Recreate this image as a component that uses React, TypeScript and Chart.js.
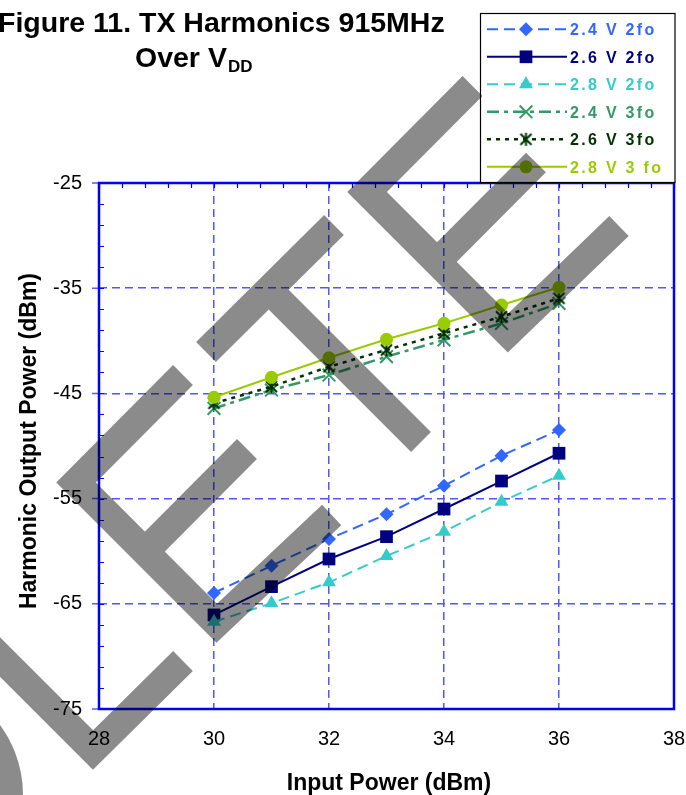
import React, { useEffect, useRef } from 'react';
import { Chart, registerables } from 'chart.js';
import { drawPoint } from 'chart.js/helpers';

Chart.register(...registerables);

// ---------- data ----------
const inputPower = [30, 31, 32, 33, 34, 35, 36];
const v24_2fo = [-63.97, -61.38, -58.84, -56.49, -53.77, -50.92, -48.48];
const v26_2fo = [-66.06, -63.37, -60.74, -58.62, -55.99, -53.33, -50.69];
const v28_2fo = [-66.7, -64.95, -62.96, -60.46, -58.15, -55.29, -52.82];
const v24_3fo = [-46.42, -44.68, -43.25, -41.51, -39.92, -38.34, -36.44];
const v26_3fo = [-45.94, -44.36, -42.46, -40.87, -39.29, -37.71, -35.96];
const v28_3fo = [-45.37, -43.47, -41.61, -39.86, -38.34, -36.6, -34.91];
const seriesLabels = ['2.4 V 2fo', '2.6 V 2fo', '2.8 V 2fo', '2.4 V 3fo', '2.6 V 3fo', '2.8 V 3 fo'];
const xMin = 28, xMax = 38, xStep = 2;
const yMin = -75, yMax = -25, yStep = 10;
const titleLine1 = 'Figure 11. TX Harmonics 915MHz';
const titleLine2 = 'Over V';
const titleSub = 'DD';
const xTitle = 'Input Power (dBm)';
const yTitle = 'Harmonic Output Power (dBm)';

const FF = '"Liberation Sans", Arial, Helvetica, sans-serif';

function makeStar(color: string, size: number, lw: number) {
  const c = document.createElement('canvas');
  c.width = size; c.height = size;
  const g = c.getContext('2d')!;
  g.strokeStyle = color; g.lineWidth = lw;
  const h = size / 2, r = size / 2 - 1;
  g.beginPath();
  g.moveTo(h - r * 0.85, h - r * 0.85); g.lineTo(h + r * 0.85, h + r * 0.85);
  g.moveTo(h + r * 0.85, h - r * 0.85); g.lineTo(h - r * 0.85, h + r * 0.85);
  g.moveTo(h, h - r); g.lineTo(h, h + r);
  g.stroke();
  return c;
}

type Sty = { color: string; dash: number[]; width: number; point: any; radius: number; pbw: number };

function buildStyles(): Sty[] {
  return [
    { color: '#3366FF', dash: [11, 6], width: 2, point: 'rectRot', radius: 7, pbw: 0 },
    { color: '#000080', dash: [], width: 2, point: 'rect', radius: 9, pbw: 0 },
    { color: '#33CCCC', dash: [11, 6], width: 2, point: 'triangle', radius: 8, pbw: 0 },
    { color: '#339966', dash: [12, 5, 4, 5], width: 2.5, point: 'crossRot', radius: 9, pbw: 2 },
    { color: '#003300', dash: [4, 5], width: 2.5, point: makeStar('#003300', 15, 2), radius: 7, pbw: 0 },
    { color: '#99CC00', dash: [], width: 2, point: 'circle', radius: 6.5, pbw: 0 },
  ];
}

function drawWatermark(ctx: CanvasRenderingContext2D, W: number, H: number) {
  const off = document.createElement('canvas');
  off.width = W; off.height = H;
  const g = off.getContext('2d')!;
  g.strokeStyle = '#000';
  g.lineWidth = 28;
  g.lineCap = 'butt';
  g.lineJoin = 'miter';
  const polys: number[][][] = [
    [[-60, 597], [93, 750], [183, 661]],
    [[183, 375], [76, 482.5], [216.7, 623.3], [331.7, 515]],
    [[145, 551.5], [247, 449]],
    [[334, 225], [206, 352]],
    [[269, 290], [421, 442]],
    [[472.5, 86], [367, 192], [508, 333], [619, 226]],
    [[437, 262], [536, 162.5]],
  ];
  for (const p of polys) {
    g.beginPath();
    g.moveTo(p[0][0], p[0][1]);
    for (let i = 1; i < p.length; i++) g.lineTo(p[i][0], p[i][1]);
    g.stroke();
  }
  g.beginPath();
  g.arc(-95, 795, 104, -Math.PI / 2, Math.PI / 2);
  g.stroke();
  ctx.save();
  ctx.globalAlpha = 0.455;
  ctx.drawImage(off, 0, 0);
  ctx.restore();
}

export default function App() {
  const ref = useRef<HTMLCanvasElement>(null);
  useEffect(() => {
    const styles = buildStyles();
    const series = [v24_2fo, v26_2fo, v28_2fo, v24_3fo, v26_3fo, v28_3fo];
    const datasets = series.map((vals, i) => {
      const s = styles[i];
      return {
        label: seriesLabels[i],
        data: vals.map((v, k) => ({ x: inputPower[k], y: v })),
        borderColor: s.color,
        backgroundColor: s.color,
        borderWidth: s.width,
        borderDash: s.dash,
        pointStyle: s.point,
        pointRadius: s.radius,
        pointBackgroundColor: s.color,
        pointBorderColor: s.color,
        pointBorderWidth: s.pbw,
        tension: 0,
        fill: false,
        order: series.length - 1 - i,
      };
    });

    const gridColor = 'rgb(85,85,250)';

    const deco = {
      id: 'deco',
      afterDraw(chart: any) {
        const ctx: CanvasRenderingContext2D = chart.ctx;
        const a = chart.chartArea;
        const xs = chart.scales.x, ys = chart.scales.y;
        ctx.save();
        ctx.setLineDash([]);
        // minor ticks top (inside)
        ctx.strokeStyle = '#0000FF';
        ctx.lineWidth = 1.2;
        ctx.beginPath();
        for (let v = xMin; v <= xMax + 1e-9; v += 0.4) {
          const px = Math.round(xs.getPixelForValue(v)) + 0.5;
          ctx.moveTo(px, a.top); ctx.lineTo(px, a.top + 5);
        }
        for (let v = yMin; v <= yMax + 1e-9; v += 2) {
          const py = Math.round(ys.getPixelForValue(v)) + 0.5;
          ctx.moveTo(a.left, py); ctx.lineTo(a.left + 5, py);
        }
        ctx.stroke();
        // major ticks left (outside)
        ctx.strokeStyle = 'rgb(90,90,255)';
        ctx.lineWidth = 1.5;
        ctx.beginPath();
        for (let v = yMin; v <= yMax + 1e-9; v += yStep) {
          const py = ys.getPixelForValue(v);
          ctx.moveTo(a.left - 7, py); ctx.lineTo(a.left, py);
        }
        ctx.stroke();
        // border
        ctx.strokeStyle = '#0000FF';
        ctx.lineWidth = 2.5;
        ctx.strokeRect(a.left, a.top, a.right - a.left, a.bottom - a.top);

        // axis titles
        ctx.fillStyle = '#000';
        ctx.font = `bold 23px ${FF}`;
        ctx.textAlign = 'center';
        ctx.textBaseline = 'alphabetic';
        ctx.fillText(xTitle, 389, 790);
        ctx.save();
        ctx.translate(36, 441);
        ctx.rotate(-Math.PI / 2);
        ctx.fillText(yTitle, 0, 0);
        ctx.restore();

        // title
        ctx.textAlign = 'left';
        ctx.font = `bold 28.5px ${FF}`;
        ctx.fillText(titleLine1, -2, 31.5);
        ctx.fillText(titleLine2, 135, 67);
        const w2 = ctx.measureText(titleLine2).width;
        ctx.font = `bold 17px ${FF}`;
        ctx.fillText(titleSub, 135 + w2 + 1, 72);

        // legend
        const L = 480.5, T = 13.5, R = 675, B = 182.5;
        ctx.fillStyle = '#fff';
        ctx.fillRect(L, T, R - L, B - T);
        ctx.strokeStyle = '#000';
        ctx.lineWidth = 1.2;
        ctx.strokeRect(L, T, R - L, B - T);
        for (let i = 0; i < styles.length; i++) {
          const s = styles[i];
          const cy = 29.3 + i * 27.5;
          ctx.strokeStyle = s.color;
          ctx.lineWidth = s.width;
          ctx.setLineDash(s.dash);
          ctx.beginPath();
          ctx.moveTo(487, cy); ctx.lineTo(567, cy);
          ctx.stroke();
          ctx.setLineDash([]);
          ctx.fillStyle = s.color;
          ctx.strokeStyle = s.color;
          ctx.lineWidth = s.pbw;
          drawPoint(ctx, { pointStyle: s.point, rotation: 0, radius: s.radius, borderWidth: s.pbw } as any, 526, cy);
          ctx.fillStyle = s.color;
          ctx.font = `bold 16px ${FF}`;
          (ctx as any).letterSpacing = '2.3px';
          ctx.textAlign = 'left';
          ctx.fillText(seriesLabels[i], 570, cy + 5.8);
          (ctx as any).letterSpacing = '0px';
        }
        ctx.restore();

        drawWatermark(ctx, chart.width, chart.height);
      },
    };

    const chart = new Chart(ref.current!, {
      type: 'line',
      data: { datasets },
      options: {
        animation: false,
        responsive: false,
        maintainAspectRatio: false,
        layout: { padding: { top: 183, right: 12, left: 0, bottom: 0 } },
        plugins: { legend: { display: false }, tooltip: { enabled: false }, title: { display: false } },
        scales: {
          x: {
            type: 'linear', min: xMin, max: xMax,
            afterFit: (s: any) => { s.height = 86; s.paddingLeft = 0; s.paddingRight = 0; },
            ticks: { stepSize: xStep, color: '#000', font: { family: FF, size: 20 }, padding: 18, maxRotation: 0, autoSkip: false },
            grid: { color: gridColor, lineWidth: 1.5, drawTicks: false },
            border: { display: false, dash: [8, 5] },
          },
          y: {
            type: 'linear', min: yMin, max: yMax,
            afterFit: (s: any) => { s.width = 99; s.paddingTop = 0; s.paddingBottom = 0; },
            ticks: { stepSize: yStep, color: '#000', font: { family: FF, size: 20 }, padding: 17, autoSkip: false },
            grid: { color: gridColor, lineWidth: 1.5, drawTicks: false },
            border: { display: false, dash: [8, 5] },
          },
        },
      },
      plugins: [deco],
    } as any);
    return () => chart.destroy();
  }, []);
  return (
    <div style={{ position: 'absolute', left: 0, top: 0, width: 686, height: 795, background: '#fff' }}>
      <canvas ref={ref} width={686} height={795} style={{ display: 'block', width: 686, height: 795 }} />
    </div>
  );
}
